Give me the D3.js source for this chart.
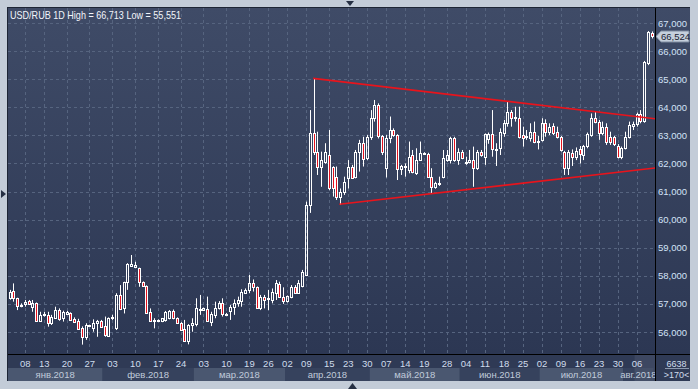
<!DOCTYPE html>
<html>
<head>
<meta charset="utf-8">
<script src="https://d3js.org/d3.v7.min.js"></script>
<style>
body { margin: 0; background: #c3ccd8; }
svg { display: block; font-family: "Liberation Sans", Arial, sans-serif; }
</style>
</head>
<body>
<svg id="chart" width="698" height="389"></svg>
<script>
'use strict';

const title = "USD/RUB 1D High = 66,713 Low = 55,551";

// daily candles, jan 2018 .. aug 2018 (170 bars)
const opens = [
  57.20,57.46,57.20,56.92,56.98,57.10,56.90,57.02,56.39,56.62,
  56.61,56.33,56.51,56.78,56.49,56.64,56.66,56.47,56.40,56.13,
  55.83,56.24,56.15,56.31,56.39,56.21,55.86,56.50,56.15,57.32,
  56.84,57.77,58.35,58.33,58.27,57.77,57.64,56.72,56.40,56.41,
  56.40,56.43,56.49,56.75,56.49,56.33,56.12,55.69,56.25,56.30,
  56.82,56.80,56.81,56.37,56.61,56.84,57.04,56.62,56.76,56.90,
  57.02,57.12,57.40,57.50,57.73,57.59,56.84,57.26,57.22,57.14,
  57.40,57.70,57.26,57.12,57.26,57.59,57.40,57.64,58.03,60.52,
  63.07,62.42,61.89,62.06,62.30,61.89,61.53,60.82,60.99,61.47,
  61.89,61.53,62.42,62.72,62.18,62.95,63.61,64.08,62.98,61.83,
  62.89,63.19,63.01,61.80,61.90,61.77,62.30,61.65,62.12,62.36,
  62.33,61.53,61.17,61.30,61.53,62.12,62.12,62.89,62.12,62.42,
  62.06,62.06,62.12,61.83,62.42,62.24,62.86,63.05,62.50,62.54,
  63.07,63.43,63.84,63.62,63.61,63.01,62.97,62.89,63.13,62.80,
  62.84,63.45,63.13,63.33,63.13,62.95,62.40,61.83,62.38,62.22,
  62.50,62.30,62.62,63.01,63.61,63.49,63.07,63.31,62.93,62.93,
  62.62,62.24,62.54,62.93,63.33,63.40,63.76,63.52,65.56,66.66
];
const highs = [
  57.50,57.73,57.22,57.02,57.14,57.14,57.14,57.05,56.72,56.72,
  56.72,56.61,56.90,56.84,56.76,56.75,56.70,56.52,56.47,56.20,
  56.31,56.26,56.45,56.43,56.43,56.55,56.52,56.61,57.38,57.67,
  57.79,58.45,58.74,58.50,58.29,57.80,57.66,56.84,56.49,56.45,
  56.50,56.75,56.78,56.80,56.52,56.35,56.43,56.28,56.49,57.20,
  57.32,56.87,57.26,56.72,57.08,57.10,57.20,56.68,56.96,57.16,
  57.26,57.52,57.55,58.03,57.87,57.62,57.32,57.32,57.50,57.55,
  57.85,57.79,57.59,57.30,57.67,57.67,57.85,58.21,60.64,63.90,
  65.03,63.13,62.42,62.72,63.19,61.90,61.89,61.11,61.53,62.12,
  61.95,62.48,62.84,62.95,63.01,63.90,64.26,64.14,63.01,63.01,
  63.67,63.25,63.04,61.95,62.00,62.78,62.48,62.54,62.78,62.40,
  62.38,61.83,61.35,61.53,62.48,62.48,62.95,62.95,62.54,62.48,
  62.24,62.48,62.60,62.48,62.48,63.07,63.10,63.90,62.72,63.25,
  63.55,64.20,63.90,64.02,64.02,63.31,63.19,63.43,63.49,62.98,
  63.61,63.57,63.43,63.43,63.31,62.98,62.45,62.48,62.50,62.57,
  62.62,62.66,63.10,63.78,63.84,63.55,63.49,63.43,63.13,62.98,
  62.69,62.60,63.13,63.49,63.49,63.81,63.90,65.65,66.713,66.70
];
const lows = [
  57.15,57.08,56.78,56.88,56.90,56.96,56.72,56.37,56.37,56.55,
  56.19,56.25,56.49,56.40,56.37,56.62,56.40,56.33,56.10,55.551,
  55.72,56.22,56.01,55.83,56.17,55.83,55.84,56.43,56.07,56.78,
  56.66,57.50,58.33,58.31,57.61,57.64,56.66,56.37,56.13,56.37,
  56.35,56.37,56.45,56.45,56.30,56.05,55.66,55.56,56.01,56.20,
  56.61,56.75,56.37,56.21,56.49,56.80,56.55,56.58,56.43,56.61,
  56.90,56.90,57.36,57.38,57.44,56.82,56.78,56.84,56.78,57.02,
  57.14,57.24,57.00,57.05,57.20,57.38,57.36,57.59,57.99,60.24,
  62.30,61.59,61.17,61.99,61.05,60.82,60.70,60.52,60.88,61.11,
  61.47,61.47,61.71,61.89,62.12,62.84,63.49,62.89,62.30,61.50,
  62.72,62.95,61.41,61.59,61.53,61.65,61.65,61.59,62.10,62.33,
  61.50,60.94,61.10,61.20,61.47,62.06,62.00,62.06,61.95,62.15,
  61.95,62.00,61.17,61.77,62.24,61.95,62.70,62.24,61.91,62.30,
  62.95,63.31,63.31,63.49,62.89,62.60,62.84,62.78,62.72,62.50,
  62.78,62.95,63.01,63.01,62.89,62.42,61.59,61.59,61.91,62.12,
  62.00,62.12,62.54,62.95,63.43,62.84,63.01,62.66,62.66,62.62,
  62.18,62.15,62.50,62.89,63.19,63.31,63.43,63.45,65.50,66.45
];
const closes = [
  57.44,57.20,56.93,56.96,57.08,56.98,57.02,56.39,56.61,56.64,
  56.33,56.55,56.78,56.45,56.72,56.71,56.43,56.37,56.11,55.83,
  56.25,56.25,56.33,56.40,56.19,55.89,56.51,56.52,57.32,56.81,
  57.77,58.42,58.42,58.39,57.77,57.64,56.69,56.39,56.41,56.40,
  56.49,56.72,56.75,56.49,56.31,56.07,55.69,56.25,56.33,56.84,
  56.81,56.84,56.40,56.63,56.84,57.04,56.63,56.63,56.90,57.04,
  57.14,57.44,57.50,57.76,57.59,56.84,57.26,57.14,57.16,57.44,
  57.73,57.26,57.12,57.28,57.59,57.40,57.73,58.15,60.52,63.07,
  62.42,61.89,62.12,62.42,61.11,61.11,60.82,60.99,61.35,61.89,
  61.50,62.42,62.72,62.15,62.95,63.61,64.08,62.98,62.42,62.89,
  63.19,63.01,61.80,61.92,61.89,62.24,61.71,62.12,62.36,62.36,
  61.53,61.17,61.29,61.29,62.18,62.30,62.89,62.12,62.42,62.18,
  62.06,62.12,61.83,62.42,62.30,63.04,63.05,62.50,62.52,63.13,
  63.43,63.84,63.61,63.64,62.95,62.89,62.99,63.13,62.78,62.81,
  63.43,63.13,63.31,63.10,62.95,62.48,61.83,62.42,62.24,62.46,
  62.32,62.62,63.05,63.61,63.49,63.07,63.31,62.78,62.78,62.69,
  62.24,62.54,62.93,63.37,63.39,63.76,63.52,65.62,66.69,66.524
];

// price axis
const priceTicks = [56, 57, 58, 59, 60, 61, 62, 63, 64, 65, 66, 67];
const lastPrice = 66.524;

// day ticks (bar index + label)
const dayTickIndex = [4, 9, 15, 21, 27, 33, 39, 45, 51, 57, 63, 68, 73, 78, 84, 89, 94,
  99, 104, 109, 115, 120, 125, 130, 135, 140, 145, 150, 155, 160, 165];
const dayTickLabels = ["08", "13", "20", "27", "03", "10", "17", "24", "03", "10", "19", "26", "02", "09", "15", "23", "30",
  "07", "14", "19", "28", "04", "11", "18", "25", "02", "09", "16", "23", "30", "06"];

// months (first bar index of each)
const monthNames = ["янв.2018", "фев.2018", "мар.2018", "апр.2018", "май.2018", "июн.2018", "июл.2018", "авг.2018"];
const monthStarts = [-0.5, 24.5, 48.5, 72.5, 94.8, 118.5, 139.5, 161.5];

// trend lines: [bar index, price]
const upperTrend = [[79.9, 65.03], [170, 63.59]];
const lowerTrend = [[86.8, 60.55], [170, 61.84]];

const barCountText = ["6638", ">170<"];

const svg = d3.select("#chart");
const plotL = 8, plotR = 655, plotT = 8, plotB = 354, panelR = 689, panelB = 381;

const x = d3.scaleLinear().domain([0, 169]).range([9.5, 651.7]);
const y = d3.scaleLinear().domain([56, 67]).range([332, 23]);
const ruFmt = d3.formatLocale({decimal: ",", thousands: "\u00a0", grouping: [3], currency: ["", ""]}).format(".3f");

const defs = svg.append("defs");
const grad = defs.append("linearGradient").attr("id", "bg").attr("x1", 0).attr("x2", 0).attr("y1", 0).attr("y2", 1);
grad.append("stop").attr("offset", "0%").attr("stop-color", "#3f4b67");
grad.append("stop").attr("offset", "100%").attr("stop-color", "#2c3753");
defs.append("clipPath").attr("id", "plotClip").append("rect")
    .attr("x", plotL).attr("y", plotT).attr("width", plotR - plotL).attr("height", plotB - plotT);
defs.append("clipPath").attr("id", "axisClip").append("rect")
    .attr("x", plotL).attr("y", plotB).attr("width", plotR - plotL).attr("height", panelB - plotB);

// little scroll arrows of the frame
svg.append("path").attr("d", "M346,1 L354,1 L350,6 Z").attr("fill", "#263044");
svg.append("path").attr("d", "M1,190 L1,198 L6,194 Z").attr("fill", "#263044");
svg.append("path").attr("d", "M348,389 L357,389 L352.5,383 Z").attr("fill", "#263044");

// panel + plot background
svg.append("rect").attr("x", plotL - 1).attr("y", plotT - 1).attr("width", panelR - plotL + 2).attr("height", panelB - plotT + 1)
    .attr("fill", "#1d2535");
svg.append("rect").attr("x", plotL).attr("y", plotT).attr("width", panelR - plotL + 1).attr("height", plotB - plotT)
    .attr("fill", "url(#bg)");
svg.append("rect").attr("x", plotL).attr("y", plotB).attr("width", panelR - plotL + 1).attr("height", panelB - plotB)
    .attr("fill", "#2f3a55");

// grid
const grid = svg.append("g").attr("clip-path", "url(#plotClip)")
    .attr("stroke", "#56647f").attr("stroke-dasharray", "3,3").attr("stroke-width", 1);
grid.selectAll("line.h").data(priceTicks).join("line").attr("class", "h")
    .attr("x1", plotL).attr("x2", plotR)
    .attr("y1", d => Math.round(y(d)) + 0.5).attr("y2", d => Math.round(y(d)) + 0.5);
grid.selectAll("line.v").data(dayTickIndex).join("line").attr("class", "v")
    .attr("y1", plotT).attr("y2", plotB)
    .attr("x1", d => Math.round(x(d)) + 0.5).attr("x2", d => Math.round(x(d)) + 0.5);

// candles
const bars = d3.range(opens.length).map(i => ({i: i, o: opens[i], h: highs[i], l: lows[i], c: closes[i]}));
const candles = svg.append("g").attr("clip-path", "url(#plotClip)");
const cx = d => Math.round(x(d.i));
const bodyTop = d => Math.round(y(Math.max(d.o, d.c))) + 0.5;
const bodyBot = d => Math.max(Math.round(y(Math.min(d.o, d.c))) + 0.5, bodyTop(d) + 1);

candles.selectAll("line.wu").data(bars).join("line").attr("class", "wu")
    .attr("x1", d => cx(d) + 0.5).attr("x2", d => cx(d) + 0.5)
    .attr("y1", d => y(d.h)).attr("y2", d => bodyTop(d))
    .attr("stroke", "#ffffff");
candles.selectAll("line.wd").data(bars).join("line").attr("class", "wd")
    .attr("x1", d => cx(d) + 0.5).attr("x2", d => cx(d) + 0.5)
    .attr("y1", d => bodyBot(d)).attr("y2", d => y(d.l))
    .attr("stroke", "#ffffff");
candles.selectAll("rect").data(bars).join("rect")
    .attr("x", d => cx(d) - 0.5).attr("width", 2)
    .attr("y", d => bodyTop(d)).attr("height", d => bodyBot(d) - bodyTop(d))
    .attr("fill", d => d.c < d.o ? "#e3121e" : "none")
    .attr("stroke", "#ffffff").attr("stroke-width", 1);

// trend lines
const trend = d3.line().x(d => x(d[0])).y(d => y(d[1]));
svg.append("g").attr("clip-path", "url(#plotClip)").selectAll("path")
    .data([upperTrend, lowerTrend]).join("path")
    .attr("d", trend).attr("fill", "none").attr("stroke", "#e8141c").attr("stroke-width", 1.6);

// price axis
const yAxis = svg.append("g").attr("transform", `translate(${plotR},0)`)
    .call(d3.axisRight(y).tickValues(priceTicks).tickSize(0).tickPadding(3).tickFormat(ruFmt));
yAxis.select(".domain").remove();
yAxis.selectAll("text").attr("fill", "#d3e3f7").attr("font-size", 9.5).attr("font-family", "Liberation Sans, Arial, sans-serif");

// last price marker
const yl = Math.round(y(lastPrice)) + 0.5;
svg.append("path")
    .attr("d", `M656,${yl} L661,${yl - 5.5} L689,${yl - 5.5} L689,${yl + 5.5} L661,${yl + 5.5} Z`)
    .attr("fill", "#c5cfdc").attr("stroke", "#7f8ba0");
svg.append("text").attr("x", 661).attr("y", yl + 3.5).attr("font-size", 9.5)
    .attr("fill", "#1a2131").text(ruFmt(lastPrice));

// bottom axis: month bands
const monthEnds = monthStarts.slice(1).concat([169.5]);
const months = monthNames.map((m, i) => ({name: m, a: x(monthStarts[i]), b: Math.min(x(monthEnds[i]), plotR), mid: (x(monthStarts[i]) + x(monthEnds[i])) / 2}));
const axisG = svg.append("g").attr("clip-path", "url(#axisClip)");
axisG.selectAll("rect.m").data(months).join("rect").attr("class", "m")
    .attr("x", d => d.a).attr("width", d => d.b - d.a)
    .attr("y", 368).attr("height", panelB - 368)
    .attr("fill", (d, i) => i % 2 === 0 ? "#4a5770" : "#36425d");
axisG.append("rect").attr("x", x(164.5)).attr("width", plotR - x(164.5))
    .attr("y", plotB).attr("height", panelB - plotB).attr("fill", "#ffffff").attr("opacity", 0.07);
axisG.selectAll("text.m").data(months).join("text").attr("class", "m")
    .attr("x", d => d.mid).attr("y", 377.5)
    .attr("text-anchor", "middle").attr("font-size", 9.5).attr("fill", "#c0cbdb")
    .text(d => d.name);

const xAxis = svg.append("g").attr("transform", `translate(0,${plotB})`)
    .call(d3.axisBottom(x).tickValues(dayTickIndex).tickSize(0).tickPadding(6)
        .tickFormat((d, i) => dayTickLabels[i]));
xAxis.select(".domain").remove();
xAxis.selectAll("text").attr("fill", "#d0dcec").attr("font-size", 9.5).attr("font-family", "Liberation Sans, Arial, sans-serif");

// frame lines
svg.append("line").attr("x1", plotR + 0.5).attr("x2", plotR + 0.5).attr("y1", plotT).attr("y2", panelB)
    .attr("stroke", "#000000");
svg.append("line").attr("x1", plotL).attr("x2", panelR + 1).attr("y1", plotB + 0.5).attr("y2", plotB + 0.5)
    .attr("stroke", "#000000");

// bar counter bottom right
svg.append("text").attr("x", 676.5).attr("y", 366.5).attr("text-anchor", "middle")
    .attr("font-size", 9).attr("fill", "#d0dcec").text(barCountText[0]);
svg.append("line").attr("x1", 665).attr("x2", 689).attr("y1", 368.5).attr("y2", 368.5)
    .attr("stroke", "#8e9ab0");
svg.append("text").attr("x", 676.5).attr("y", 378).attr("text-anchor", "middle")
    .attr("font-size", 9).attr("fill", "#d0dcec").text(barCountText[1]);

// title
svg.append("text").attr("x", 10).attr("y", 18.5).attr("font-size", 10.5)
    .attr("textLength", 171).attr("lengthAdjust", "spacingAndGlyphs")
    .attr("fill", "#f2f5fa").text(title);
</script>
</body>
</html>
